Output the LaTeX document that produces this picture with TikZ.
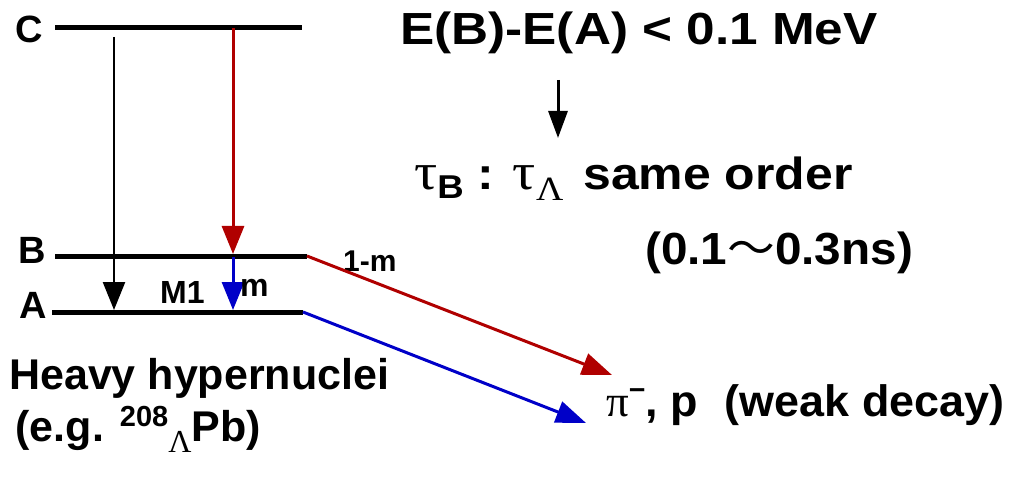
\documentclass[tikz,border=0pt]{standalone}
\usepackage{fontspec}
\setmainfont{Liberation Sans}
\newfontfamily\grk{Liberation Serif}
\newfontfamily\cjk{Noto Sans CJK SC}
\usetikzlibrary{arrows.meta}
\definecolor{myred}{RGB}{176,0,0}
\definecolor{myblue}{RGB}{0,0,200}
\begin{document}
\begin{tikzpicture}[x=1pt,y=-1pt,
  level/.style={line width=5pt},
  lbl/.style={font=\bfseries\fontsize{38}{40}\selectfont, inner sep=0pt},
  small/.style={font=\bfseries\fontsize{32}{34}\selectfont, inner sep=0pt, anchor=base west},
  big/.style={font=\bfseries\fontsize{45}{48}\selectfont, inner sep=0pt, anchor=base west},
  bigarrow/.style={-{Triangle[length=28pt,width=22pt]}},
  diagarrow/.style={line width=3pt,-{Triangle[length=30pt,width=22pt]}}]
\useasboundingbox (0,0) rectangle (1019,478);
% levels
\coordinate (C1) at (55,28);  \coordinate (C2) at (302,28);
\coordinate (B1) at (55,256); \coordinate (B2) at (307,256);
\coordinate (A1) at (52,312); \coordinate (A2) at (303,312);
\draw[level] (C1) -- (C2);
\draw[level] (B1) -- (B2);
\draw[level] (A1) -- (A2);
\node[lbl] (lC) at (29,29) {C};
\node[lbl] (lB) at (32,250) {B};
\node[lbl] (lA) at (33,305) {A};
% transitions
\coordinate (k1) at (114,37); \coordinate (k2) at (114,310);
\draw[line width=2.5pt, bigarrow] (k1) -- (k2);
\coordinate (r1) at (233,28); \coordinate (r2) at (233,254);
\draw[line width=3pt, myred, bigarrow] (r1) -- (r2);
\coordinate (b1) at (233,257); \coordinate (b2) at (233,310);
\draw[line width=3pt, myblue, bigarrow] (b1) -- (b2);
\node[small] (M1) at (160,303) {M1};
\node[small] (m) at (240,296) {m};
\node[small, font=\bfseries\fontsize{30}{32}\selectfont] (lm) at (343,272) {1-m};
% weak decays
\coordinate (rt) at (612,375);
\coordinate (bt) at (586,423);
\draw[diagarrow, myred] (B2) -- (rt);
\draw[diagarrow, myblue] (A2) -- (bt);
% right texts
\node[big, xscale=1.14] (EBA) at (400,45) {E(B)-E(A) < 0.1 MeV};
\coordinate (s1) at (558,80); \coordinate (s2) at (558,138);
\draw[line width=3pt, -{Triangle[length=27pt,width=19pt]}] (s1) -- (s2);
\node[big, xscale=1.11] (tau) at (414,190) {{\grk\mdseries\fontsize{52}{52}\selectfont τ}\raisebox{-9pt}{\fontsize{33}{33}\selectfont B} : {\grk\mdseries\fontsize{52}{52}\selectfont τ}\raisebox{-11pt}{\fontsize{34}{34}\selectfont\grk\mdseries Λ}\hspace{0.4em}same order};
\node[big, xscale=1.06] (ns) at (645,264) {(0.1{\cjk\mdseries ～}0.3ns)};
\node[big, font=\bfseries\fontsize{44}{46}\selectfont, xscale=1.02] (pi) at (606,416) {{\grk\mdseries π}\raisebox{17pt}{\fontsize{28}{28}\selectfont −}, p\hspace{0.6em}(weak decay)};
% left texts
\node[big, font=\bfseries\fontsize{43}{44}\selectfont] (heavy) at (9,389) {Heavy hypernuclei};
\node[big, font=\bfseries\fontsize{43}{44}\selectfont] (eg) at (9,441) {\hspace{0.15em}(e.g. \raisebox{15pt}{\fontsize{29}{29}\selectfont 208}\raisebox{-11pt}{\fontsize{32}{32}\selectfont\grk\mdseries Λ}Pb)};
\end{tikzpicture}
\end{document}
